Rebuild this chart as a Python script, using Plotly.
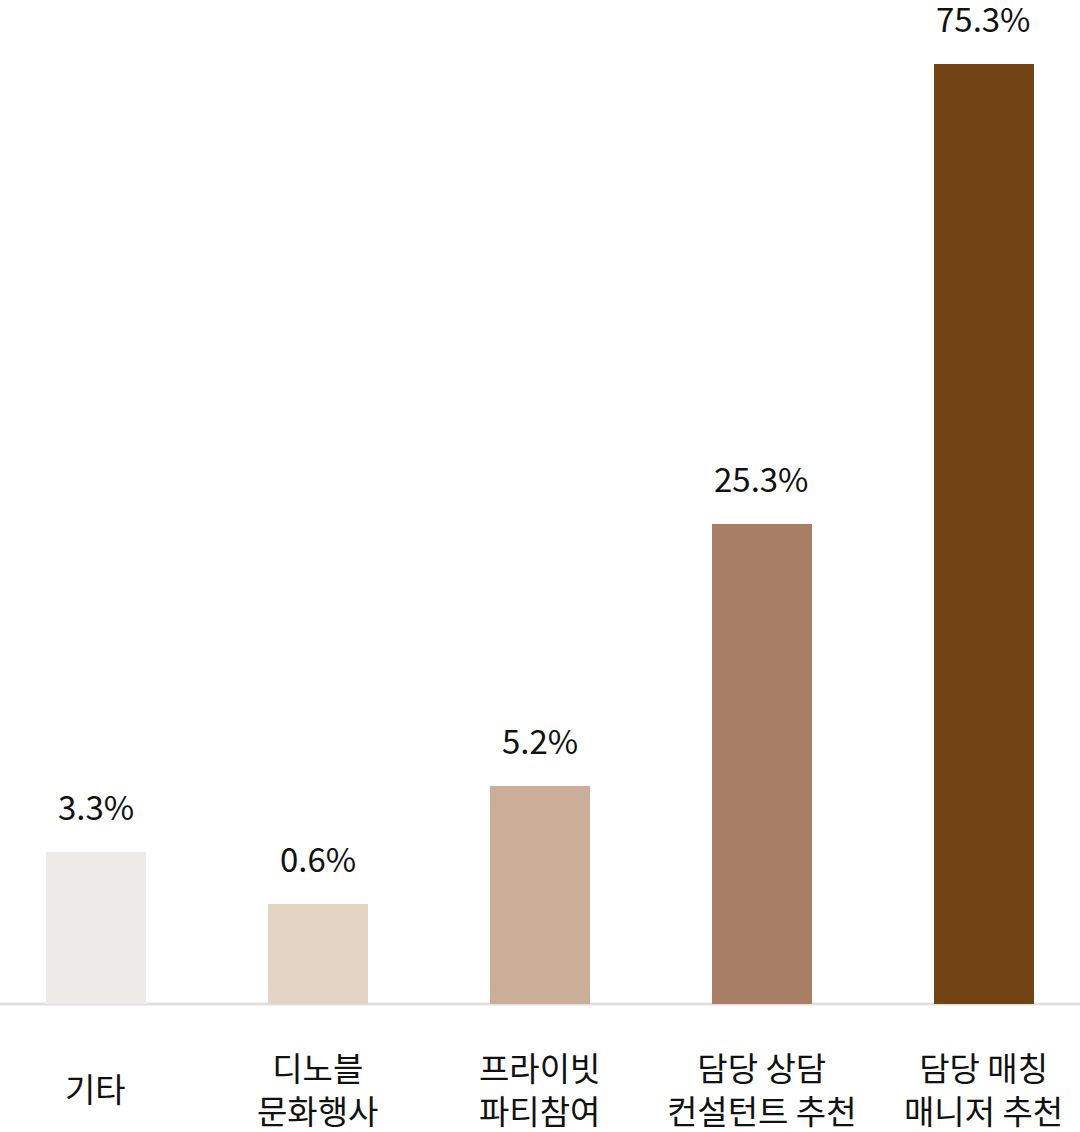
import plotly.graph_objects as go

categories = ["기타", "디노블<br>문화행사", "프라이빗<br>파티참여", "담당 상담<br>컨설턴트 추천", "담당 매칭<br>매니저 추천"]
value_labels = ["3.3%", "0.6%", "5.2%", "25.3%", "75.3%"]
# displayed bar heights as drawn in the reference (not proportional to the percentages)
bar_heights = [152, 100, 218, 480, 940]
colors = ["#EDEBE7", "#E3D4C5", "#CAAE97", "#A87F65", "#714315"]

FONT = "Noto Sans CJK KR, Noto Sans, sans-serif"
x_pos = list(range(len(categories)))

fig = go.Figure()
fig.add_trace(go.Bar(
    x=x_pos, y=bar_heights, width=0.45,
    marker=dict(color=colors, line=dict(width=0)),
    hoverinfo="skip",
))

annotations = []
for xi, h, lab in zip(x_pos, bar_heights, value_labels):
    annotations.append(dict(
        x=xi, y=h, xref="x", yref="y", text=lab, showarrow=False,
        yanchor="bottom", yshift=20, font=dict(family=FONT, size=33, color="#111111"),
    ))
for xi, cat in zip(x_pos, categories):
    annotations.append(dict(
        x=xi, y=0, xref="x", yref="paper", text=cat, showarrow=False,
        yanchor="middle", yshift=-84, font=dict(family=FONT, size=33, color="#111111"),
    ))

fig.update_layout(
    width=1080, height=1132,
    margin=dict(l=0, r=0, t=0, b=128),
    paper_bgcolor="white", plot_bgcolor="white",
    showlegend=False,
    bargap=0,
    xaxis=dict(range=[-0.4324, 4.4326], showgrid=False, zeroline=False,
               showticklabels=False, ticks="", fixedrange=True),
    yaxis=dict(range=[0, 1004], showgrid=False, zeroline=False,
               showticklabels=False, ticks="", fixedrange=True),
    annotations=annotations,
    shapes=[dict(type="line", xref="paper", yref="paper", x0=0, x1=1, y0=0, y1=0,
                 line=dict(color="#E0E0E0", width=3), layer="below")],
)

fig.write_html("out.html", config={"displayModeBar": False},
               post_script="document.body.style.margin='0';document.body.style.overflow='hidden';")
